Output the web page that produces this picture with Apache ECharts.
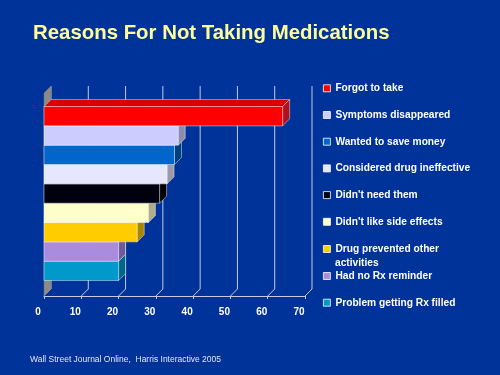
<!DOCTYPE html>
<html><head><meta charset="utf-8">
<script src="https://cdn.jsdelivr.net/npm/echarts@6/dist/echarts.min.js"></script>
<style>html,body{margin:0;padding:0;background:#003399;}#c{width:500px;height:375px;}</style>
</head><body><div id="c"></div>
<script>
const categories = ["Forgot to take","Symptoms disappeared","Wanted to save money","Considered drug ineffective","Didn't need them","Didn't like side effects","Drug prevented other activities","Had no Rx reminder","Problem getting Rx filled"];
const values = [64, 36, 35, 33, 31, 28, 25, 20, 20];
const frontColors = ['#FF0000','#CCCCFF','#0066CC','#E6E6FF','#00000F','#FFFFCC','#FFCC00','#A98BE0','#0099CC'];
const sideColors  = ['#B01020','#8C8CAE','#00407F','#9A9AA8','#000000','#B0AD88','#A88600','#6E5A9C','#00668A'];
const topColors   = ['#D80000','#AAAACC','#0050A0','#C0C0D0','#101020','#DDDDAA','#CCA000','#8870C0','#0080AA'];
const xTicks = [0,10,20,30,40,50,60,70];
const titleText = 'Reasons For Not Taking Medications';
const sourceText = 'Wall Street Journal Online,  Harris Interactive 2005';

const D = 7; // 3D depth in px
const FONT = "'Liberation Sans',Arial,sans-serif";
const lineCol = '#C8C8E6';

const chart = echarts.init(document.getElementById('c'), null, {renderer:'canvas'});

const barSeries = categories.map((name, i) => ({
  type: 'custom',
  name: name,
  z: 20 - i,
  itemStyle: {color: frontColors[i], borderColor:'#ffffff', borderWidth:1},
  data: [[values[i], i]],
  renderItem: function(params, api){
    const v = api.value(0), idx = api.value(1);
    const a = api.coord([0, idx]);
    const b = api.coord([v, idx + 1]);
    const x0 = a[0], y0 = a[1], x1 = b[0], y1 = b[1];
    const edge = {stroke:'rgba(255,255,255,0.55)', lineWidth:0.8};
    return {type:'group', children:[
      {type:'polygon', shape:{points:[[x0,y0],[x0+D,y0-D],[x1+D,y0-D],[x1,y0]]}, style:Object.assign({fill:topColors[i]}, edge)},
      {type:'polygon', shape:{points:[[x1,y0],[x1+D,y0-D],[x1+D,y1-D],[x1,y1]]}, style:Object.assign({fill:sideColors[i]}, edge)},
      {type:'rect', shape:{x:x0, y:y0, width:x1-x0, height:y1-y0}, style:Object.assign({fill:frontColors[i]}, edge)}
    ]};
  }
}));

const wallSeries = {
  type:'custom', name:'wall', z:1, silent:true,
  data:[[0,0]],
  renderItem: function(params, api){
    const ch = [];
    const yTop = api.coord([0, -0.7])[1];
    const yBot = api.coord([0, 9.8])[1];
    xTicks.forEach(t => {
      const x = api.coord([t, 0])[0];
      ch.push({type:'line', shape:{x1:x+D, y1:yTop-D, x2:x+D, y2:yBot-D}, style:{stroke:lineCol, lineWidth:1}});
      ch.push({type:'line', shape:{x1:x+D, y1:yBot-D, x2:x, y2:yBot}, style:{stroke:lineCol, lineWidth:1}});
    });
    const xl = api.coord([0,0])[0];
    ch.push({type:'polygon', shape:{points:[[xl,yTop],[xl+D,yTop-D],[xl+D,yBot-D],[xl,yBot]]}, style:{fill:'#8A8A8A', stroke:'#777', lineWidth:0.5}});
    return {type:'group', children:ch};
  }
};

const legendText = {color:'#FFFFFF', fontWeight:'bold', fontSize:10.2, fontFamily:FONT, lineHeight:14};
const legendBase = {orient:'vertical', left:323, padding:0, icon:'rect', itemWidth:7, itemHeight:7, selectedMode:false,
  itemStyle:{borderColor:'#ffffff', borderWidth:0.8}, textStyle:legendText};

const option = {
  backgroundColor:'#003399',
  animation:false,
  color: frontColors,
  title:[
    {text:titleText, left:33, top:23, padding:0, textStyle:{color:'#FFFF99', fontSize:20.4, fontWeight:'bold', fontFamily:FONT,
      textShadowColor:'#000000', textShadowOffsetX:2, textShadowOffsetY:2, textShadowBlur:0}},
    {text:sourceText, left:30, top:355, padding:0, textStyle:{color:'#E4E4F4', fontSize:8.5, fontWeight:'normal', fontFamily:FONT}}
  ],
  legend:[
    Object.assign({}, legendBase, {top:81.3, itemGap:12.7, data:categories.slice(0,6)}),
    Object.assign({}, legendBase, {top:242, data:[categories[6]], formatter: () => 'Drug prevented other'}),
    Object.assign({}, legendBase, {top:269, itemGap:12.7, data:categories.slice(7)})
  ],
  graphic:[
    {type:'text', left:335, top:256, style:{text:'activities', fill:'#FFFFFF', font:"bold 10.2px 'Liberation Sans',Arial,sans-serif", lineHeight:14}}
  ],
  grid:{left:44, right:195, top:93, bottom:79},
  xAxis:{type:'value', min:0, max:70, interval:10,
    axisLine:{show:true, onZero:false, lineStyle:{color:lineCol, width:1}},
    axisTick:{show:true, length:3, lineStyle:{color:lineCol}},
    splitLine:{show:false},
    axisLabel:{color:'#FFFFFF', fontWeight:'bold', fontSize:10, fontFamily:FONT, margin:11, padding:[0,12,0,0]}},
  yAxis:{type:'value', min:-0.7, max:9.8, inverse:true, show:false},
  series:[wallSeries].concat(barSeries)
};
chart.setOption(option);
</script>
</body></html>
